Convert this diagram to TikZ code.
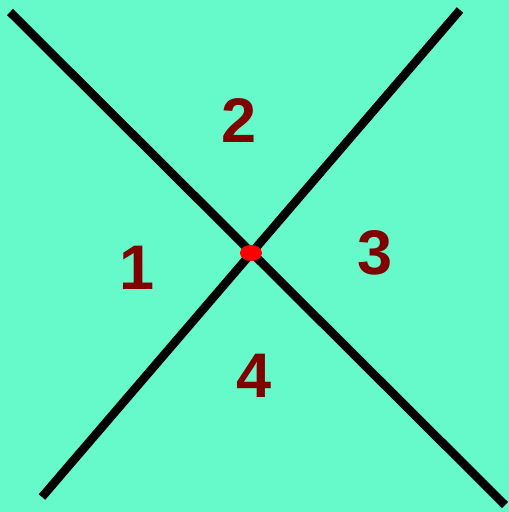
\documentclass[tikz,border=0pt]{standalone}
\usepackage{fontspec}
\setmainfont{Liberation Sans}
\usetikzlibrary{shapes.geometric}
\usepackage{xcolor}
\definecolor{mint}{RGB}{102,249,202}
\definecolor{darkred}{RGB}{128,0,0}

\begin{document}
\begin{tikzpicture}[x=1pt,y=-1pt,line cap=butt]
\tikzset{
  region/.style={text=darkred,font=\fontsize{63}{63}\selectfont\bfseries,inner sep=0pt},
  axis/.style={line width=8.5pt,black}
}
\fill[mint] (0,0) rectangle (509,512);
\useasboundingbox (0,0) rectangle (509,512);
% end points of the two crossing lines
\coordinate (nw) at (10,12);
\coordinate (se) at (505,505);
\coordinate (ne) at (460,10);
\coordinate (sw) at (42,497);
\draw[axis] (nw) -- (se);
\draw[axis] (ne) -- (sw);
\node[ellipse,fill=red,minimum width=22pt,minimum height=16pt,inner sep=0pt] (cross) at (251,253) {};
\node[region] (r1) at (137,268) {1};
\node[region] (r2) at (239,121) {2};
\node[region] (r3) at (375,253) {3};
\node[region] (r4) at (254,376) {4};
\end{tikzpicture}
\end{document}
